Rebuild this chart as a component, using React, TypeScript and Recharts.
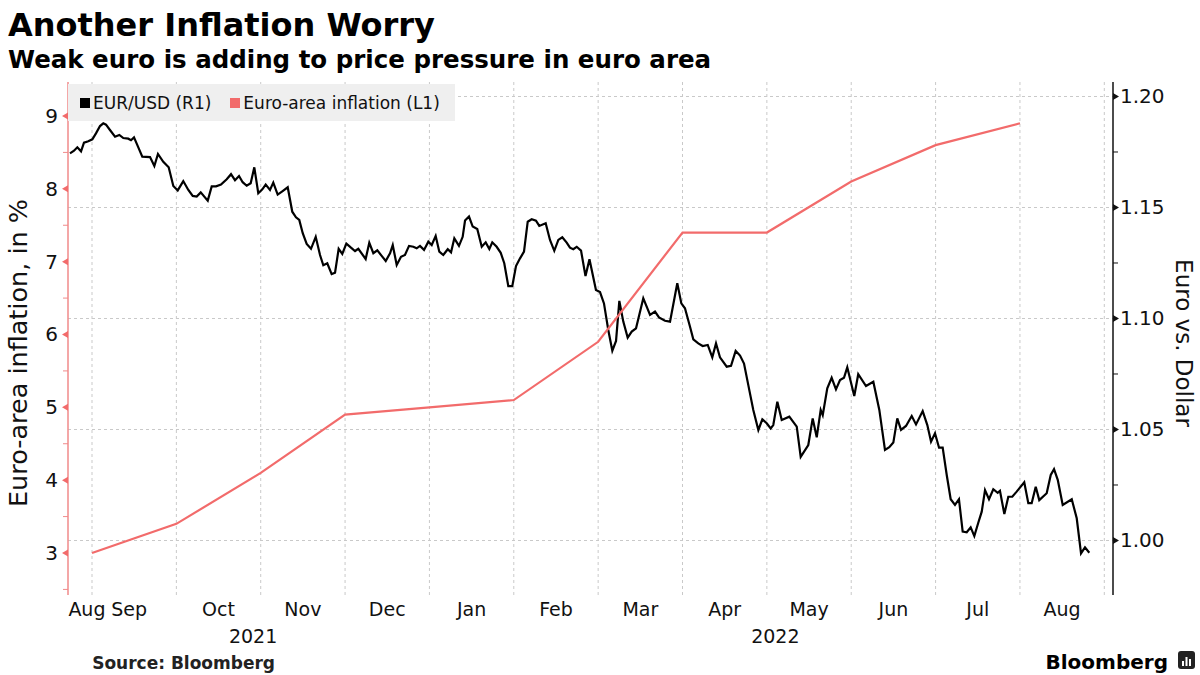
import React from "react";
import { LineChart, Line, XAxis, YAxis, CartesianGrid } from "recharts";

// EUR/USD daily closes: [months since 1 Sep 2021, value]
const fxSeries: [number, number][] = [
  [-0.261, 1.1744], [-0.213, 1.1756], [-0.174, 1.1771], [-0.13, 1.1753], [-0.095, 1.1792], [-0.044, 1.1798],
  [0.004, 1.1807], [0.047, 1.1834], [0.095, 1.1867], [0.134, 1.1879], [0.166, 1.1873], [0.213, 1.1849],
  [0.273, 1.1819], [0.324, 1.1827], [0.371, 1.1813], [0.43, 1.181], [0.462, 1.1803], [0.498, 1.1816],
  [0.549, 1.1771], [0.596, 1.1729], [0.688, 1.1727], [0.739, 1.1687], [0.782, 1.1741], [0.845, 1.1706],
  [0.909, 1.1681], [0.964, 1.1597], [1.016, 1.1577], [1.082, 1.1619], [1.142, 1.1579], [1.194, 1.1552],
  [1.241, 1.1549], [1.289, 1.1568], [1.372, 1.1531], [1.419, 1.1595], [1.47, 1.1595], [1.529, 1.1603],
  [1.597, 1.1627], [1.648, 1.165], [1.695, 1.1623], [1.743, 1.1642],
  [1.786, 1.1614], [1.834, 1.1598], [1.881, 1.1609], [1.924, 1.1681], [1.971, 1.1564], [2.019, 1.1582],
  [2.059, 1.1603], [2.11, 1.1579], [2.149, 1.1612], [2.201, 1.1558], [2.256, 1.1573], [2.32, 1.1591],
  [2.374, 1.1481], [2.418, 1.1456], [2.457, 1.1444], [2.498, 1.1384], [2.545, 1.1336], [2.596, 1.1314],
  [2.652, 1.1368], [2.703, 1.1286], [2.742, 1.124], [2.789, 1.1249], [2.841, 1.12], [2.881, 1.1206],
  [2.924, 1.1314], [2.967, 1.1291], [3.015, 1.1337], [3.07, 1.1319], [3.118, 1.1304], [3.157, 1.1314],
  [3.244, 1.1268], [3.287, 1.1341], [3.335, 1.1294], [3.382, 1.1307], [3.434, 1.1282], [3.482, 1.1259],
  [3.533, 1.1294],
  [3.565, 1.1331], [3.612, 1.1241], [3.663, 1.1278], [3.71, 1.1286], [3.758, 1.1327], [3.809, 1.1323],
  [3.849, 1.1316], [3.888, 1.1327], [3.936, 1.1309], [3.987, 1.1346], [4.027, 1.1331], [4.074, 1.1372],
  [4.117, 1.1301], [4.164, 1.1286], [4.217, 1.1312], [4.256, 1.1298], [4.295, 1.1361], [4.35, 1.1327],
  [4.394, 1.1368], [4.422, 1.1441], [4.469, 1.1459], [4.513, 1.1414], [4.567, 1.1403], [4.62, 1.1323],
  [4.667, 1.1343], [4.71, 1.1313], [4.745, 1.1343], [4.797, 1.1323], [4.845, 1.1296], [4.887, 1.1249],
  [4.935, 1.1146], [4.982, 1.1146], [5.026, 1.1236], [5.074, 1.1271], [5.121, 1.1301], [5.165, 1.1436],
  [5.212, 1.1447], [5.263, 1.1441], [5.302, 1.1417], [5.378, 1.1429], [5.429, 1.1354], [5.48, 1.1305],
  [5.528, 1.1354], [5.575, 1.1366], [5.627, 1.1342], [5.666, 1.1319], [5.705, 1.1312], [5.746, 1.1323],
  [5.797, 1.1306], [5.85, 1.1191], [5.897, 1.1267], [5.974, 1.1128], [6.022, 1.1119],
  [6.069, 1.1068], [6.12, 1.0948], [6.168, 1.0855], [6.212, 1.0899], [6.251, 1.1079], [6.298, 1.0986],
  [6.35, 1.0914], [6.398, 1.0941], [6.449, 1.0956], [6.535, 1.1091], [6.615, 1.1016], [6.674, 1.1031],
  [6.721, 1.1005], [6.792, 1.099], [6.852, 1.0986], [6.938, 1.1159], [6.986, 1.1068], [7.029, 1.1046],
  [7.089, 1.0963], [7.128, 1.0906], [7.187, 1.0888], [7.239, 1.0876], [7.299, 1.0881], [7.353, 1.0825],
  [7.397, 1.0888], [7.444, 1.0825], [7.524, 1.0783], [7.575, 1.0787], [7.63, 1.0854], [7.682, 1.0833],
  [7.729, 1.0797],
  [7.78, 1.07], [7.839, 1.0588], [7.899, 1.0498], [7.946, 1.0546], [7.998, 1.0528], [8.045, 1.0505],
  [8.076, 1.052], [8.124, 1.0625], [8.176, 1.0543], [8.266, 1.0558], [8.354, 1.0513], [8.401, 1.0377],
  [8.491, 1.043], [8.543, 1.055], [8.591, 1.0465], [8.638, 1.0588], [8.662, 1.0565], [8.716, 1.0686],
  [8.768, 1.0733], [8.819, 1.0681], [8.867, 1.0723], [8.914, 1.0733], [8.953, 1.078], [9.036, 1.0651],
  [9.083, 1.0749], [9.175, 1.0696], [9.262, 1.0715], [9.333, 1.0588], [9.4, 1.0408], [9.451, 1.042],
  [9.499, 1.0441], [9.546, 1.055], [9.59, 1.0498], [9.649, 1.0516], [9.717, 1.0561], [9.768, 1.0523],
  [9.847, 1.0583],
  [9.902, 1.052], [9.946, 1.0445], [9.993, 1.0483], [10.041, 1.0418], [10.084, 1.0418], [10.132, 1.0295],
  [10.179, 1.0186], [10.23, 1.016], [10.277, 1.0186], [10.321, 1.004], [10.369, 1.0037], [10.416, 1.0059],
  [10.459, 1.002], [10.506, 1.008], [10.547, 1.013], [10.586, 1.0227], [10.633, 1.0186], [10.684, 1.0231],
  [10.736, 1.0215], [10.763, 1.0224], [10.815, 1.0119], [10.862, 1.0197], [10.909, 1.0197], [10.961, 1.022],
  [11.051, 1.0262], [11.099, 1.0168], [11.139, 1.0168], [11.187, 1.0242], [11.229, 1.0182], [11.317, 1.0213],
  [11.365, 1.0295], [11.404, 1.0321], [11.448, 1.0273], [11.507, 1.016], [11.614, 1.0186], [11.673, 1.01],
  [11.724, 0.9942], [11.771, 0.9969], [11.822, 0.9945],
];

// Euro-area inflation (monthly), plotted at month end (months since 1 Sep 2021)
const inflationTime = [0, 1, 2, 3, 4, 5, 6, 7, 8, 9, 10, 11];
const inflationValue = [3.0, 3.4, 4.1, 4.9, 5.0, 5.1, 5.9, 7.4, 7.4, 8.1, 8.6, 8.9];

const monthLabels = ["Aug", "Sep", "Oct", "Nov", "Dec", "Jan", "Feb", "Mar", "Apr", "May", "Jun", "Jul", "Aug"];
const monthLabelPos = [-0.06, 0.44, 1.5, 2.5, 3.5, 4.5, 5.5, 6.5, 7.5, 8.5, 9.5, 10.5, 11.5];
const monthStarts = [0, 1, 2, 3, 4, 5, 6, 7, 8, 9, 10, 11, 12];
const yearLabels = ["2021", "2022"];
const yearLabelPos = [1.91, 8.1];

const leftTicks = [2.5, 3, 3.5, 4, 4.5, 5, 5.5, 6, 6.5, 7, 7.5, 8, 8.5, 9];
const rightTicks = [1.0, 1.025, 1.05, 1.075, 1.1, 1.125, 1.15, 1.175, 1.2];
const rightGrid = [1.0, 1.05, 1.1, 1.15, 1.2];

const X_DOMAIN: [number, number] = [-0.2845, 12.103];
const LEFT_DOMAIN: [number, number] = [2.4233, 9.4668];
const RIGHT_DOMAIN: [number, number] = [0.97545, 1.20653];

const PINK = "#f26b6b";
const PINK_AXIS = "#f08a8a";
const FONT = "DejaVu Sans";

const fxData = fxSeries.map(([t, v]) => ({ t, fx: v }));
const inflData = inflationValue.map((v, i) => ({ t: inflationTime[i], infl: v }));

const LeftTick = (props: any) => {
  const { x, y, payload } = props;
  const v = payload.value as number;
  const major = Math.abs(v - Math.round(v)) < 1e-6;
  if (!major) {
    return <line x1={x - 5} x2={x} y1={y} y2={y} stroke={PINK_AXIS} strokeWidth={1} />;
  }
  return (
    <g>
      <path d={`M${x} ${y - 3.5} L${x} ${y + 3.5} L${x - 6} ${y} Z`} fill={PINK} />
      <text x={x - 10} y={y} dy={7} textAnchor="end" fontSize={20} fontFamily={FONT} fill="#111">
        {v}
      </text>
    </g>
  );
};

const RightTick = (props: any) => {
  const { x, y, payload } = props;
  const v = payload.value as number;
  const major = Math.abs(v * 20 - Math.round(v * 20)) < 1e-6;
  if (!major) {
    return <line x1={x} x2={x + 5} y1={y} y2={y} stroke="#111" strokeWidth={1} />;
  }
  return (
    <g>
      <path d={`M${x} ${y - 3.5} L${x} ${y + 3.5} L${x + 6} ${y} Z`} fill="#111" />
      <text x={x + 7} y={y} dy={7} textAnchor="start" fontSize={20} fontFamily={FONT} fill="#111">
        {v.toFixed(2)}
      </text>
    </g>
  );
};

const MonthTick = (props: any) => {
  const { x, y, payload } = props;
  const idx = monthLabelPos.findIndex((p) => Math.abs(p - payload.value) < 1e-6);
  return (
    <text x={x} y={y} dy={21} textAnchor="middle" fontSize={19} fontFamily={FONT} fill="#111">
      {idx >= 0 ? monthLabels[idx] : ""}
    </text>
  );
};

const YearTick = (props: any) => {
  const { x, y, payload } = props;
  const idx = yearLabelPos.findIndex((p) => Math.abs(p - payload.value) < 1e-6);
  return (
    <text x={x} y={y} dy={18} textAnchor="middle" fontSize={19} fontFamily={FONT} fill="#111">
      {idx >= 0 ? yearLabels[idx] : ""}
    </text>
  );
};

export default function App() {
  return (
    <div style={{ position: "absolute", left: 0, top: 0, width: 1200, height: 675, background: "#fff", overflow: "hidden" }}>
      <LineChart width={1200} height={675} margin={{ top: 82, right: 0, bottom: 20, left: 0 }}>
        <CartesianGrid
          xAxisId={0}
          yAxisId="right"
          stroke="#c9c9c9"
          strokeDasharray="3 3"
          horizontalValues={rightGrid}
          verticalValues={monthStarts}
        />
        <XAxis
          xAxisId={0}
          dataKey="t"
          type="number"
          domain={X_DOMAIN}
          allowDataOverflow
          ticks={monthLabelPos}
          interval={0}
          tick={<MonthTick />}
          tickLine={false}
          axisLine={false}
          tickSize={0}
          tickMargin={0}
          height={30}
        />
        <XAxis
          xAxisId="yr"
          dataKey="t"
          type="number"
          domain={X_DOMAIN}
          allowDataOverflow
          ticks={yearLabelPos}
          interval={0}
          tick={<YearTick />}
          tickLine={false}
          axisLine={false}
          tickSize={0}
          tickMargin={0}
          height={30}
        />
        <YAxis
          yAxisId="left"
          orientation="left"
          type="number"
          domain={LEFT_DOMAIN}
          allowDataOverflow
          ticks={leftTicks}
          interval={0}
          width={68}
          tick={<LeftTick />}
          tickLine={false}
          tickSize={0}
          tickMargin={0}
          axisLine={{ stroke: PINK_AXIS, strokeWidth: 1.5 }}
        />
        <YAxis
          yAxisId="right"
          orientation="right"
          type="number"
          domain={RIGHT_DOMAIN}
          allowDataOverflow
          ticks={rightTicks}
          interval={0}
          width={87}
          tick={<RightTick />}
          tickLine={false}
          tickSize={0}
          tickMargin={0}
          axisLine={{ stroke: "#111", strokeWidth: 1.5 }}
        />
        <Line
          data={fxData}
          dataKey="fx"
          yAxisId="right"
          xAxisId={0}
          stroke="#000"
          strokeWidth={2.2}
          dot={false}
          activeDot={false}
          isAnimationActive={false}
          type="linear"
        />
        <Line
          data={inflData}
          dataKey="infl"
          yAxisId="left"
          xAxisId={0}
          stroke={PINK}
          strokeWidth={2.2}
          dot={false}
          activeDot={false}
          isAnimationActive={false}
          type="linear"
        />
      </LineChart>

      {/* Legend */}
      <div
        style={{
          position: "absolute",
          left: 68,
          top: 84,
          width: 387,
          height: 37,
          background: "#efefef",
          fontFamily: FONT,
          fontSize: 17,
          color: "#111",
          display: "flex",
          alignItems: "center",
        }}
      >
        <span style={{ display: "inline-block", width: 10, height: 10, background: "#000", marginLeft: 12, marginRight: 3 }} />
        <span>EUR/USD (R1)</span>
        <span style={{ display: "inline-block", width: 10, height: 10, background: PINK, marginLeft: 19, marginRight: 3 }} />
        <span>Euro-area inflation (L1)</span>
      </div>

      {/* Texts */}
      <svg width={1200} height={675} style={{ position: "absolute", left: 0, top: 0, pointerEvents: "none" }}>
        <text x={8} y={36} fontFamily={FONT} fontWeight="bold" fontSize={32} fill="#000">
          Another Inflation Worry
        </text>
        <text x={8} y={68} fontFamily={FONT} fontWeight="bold" fontSize={24.5} fill="#000">
          Weak euro is adding to price pressure in euro area
        </text>
        <text
          x={27}
          y={353}
          transform="rotate(-90 27 353)"
          textAnchor="middle"
          fontFamily={FONT}
          fontSize={25.5}
          fill="#111"
        >
          Euro-area inflation, in %
        </text>
        <text
          x={1176}
          y={343}
          transform="rotate(90 1176 343)"
          textAnchor="middle"
          fontFamily={FONT}
          fontSize={23}
          fill="#111"
        >
          Euro vs. Dollar
        </text>
        <text x={275} y={669} textAnchor="end" fontFamily={FONT} fontWeight="bold" fontSize={17} fill="#222">
          Source: Bloomberg
        </text>
        <text x={1168} y={669} textAnchor="end" fontFamily={FONT} fontWeight="bold" fontSize={20} fill="#000">
          Bloomberg
        </text>
        <rect x={1178} y={651} width={17} height={18} rx={3} fill="#222" />
        <rect x={1182} y={661} width={2} height={5} fill="#fff" />
        <rect x={1185.5} y={657} width={2} height={9} fill="#fff" />
        <rect x={1189} y={659} width={2} height={7} fill="#fff" />
      </svg>
    </div>
  );
}
